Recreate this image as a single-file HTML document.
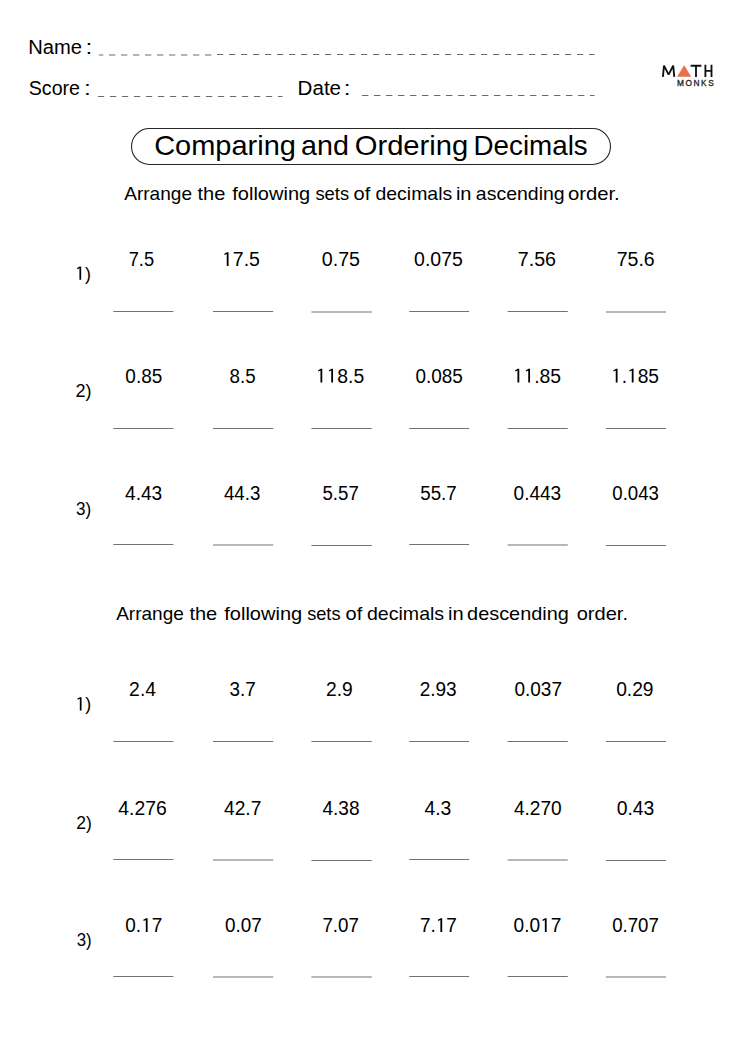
<!DOCTYPE html>
<html><head><meta charset="utf-8">
<style>
html,body{margin:0;padding:0;background:#fff;}
body{width:742px;height:1050px;position:relative;overflow:hidden;}
svg{position:absolute;left:0;top:0;display:block;}
text{font-family:"Liberation Sans",sans-serif;white-space:pre;}
</style></head><body>
<svg width="742" height="1050" viewBox="0 0 742 1050">
<g fill="#000">
<text x="28.23" y="53.70" font-size="19.60" textLength="53.82" lengthAdjust="spacingAndGlyphs">Name</text>
<text x="85.60" y="54.10" font-size="19.60" textLength="6.81" lengthAdjust="spacingAndGlyphs">:</text>
<text x="28.74" y="94.60" font-size="19.60" textLength="51.28" lengthAdjust="spacingAndGlyphs">Score</text>
<text x="84.10" y="95.00" font-size="19.60" textLength="6.81" lengthAdjust="spacingAndGlyphs">:</text>
<text x="297.62" y="94.60" font-size="19.60" textLength="43.45" lengthAdjust="spacingAndGlyphs">Date</text>
<text x="343.73" y="95.00" font-size="19.60" textLength="6.81" lengthAdjust="spacingAndGlyphs">:</text>
<text x="154.21" y="155.30" font-size="27.60" textLength="141.66" lengthAdjust="spacingAndGlyphs">Comparing</text>
<text x="301.11" y="155.30" font-size="27.60" textLength="47.86" lengthAdjust="spacingAndGlyphs">and</text>
<text x="354.69" y="155.30" font-size="27.60" textLength="113.62" lengthAdjust="spacingAndGlyphs">Ordering</text>
<text x="473.51" y="155.30" font-size="27.60" textLength="114.22" lengthAdjust="spacingAndGlyphs">Decimals</text>
<text x="124.22" y="200.30" font-size="18.20" textLength="67.78" lengthAdjust="spacingAndGlyphs">Arrange</text>
<text x="197.48" y="200.30" font-size="18.20" textLength="27.83" lengthAdjust="spacingAndGlyphs">the</text>
<text x="232.28" y="200.30" font-size="18.20" textLength="77.90" lengthAdjust="spacingAndGlyphs">following</text>
<text x="315.44" y="200.30" font-size="18.20" textLength="33.63" lengthAdjust="spacingAndGlyphs">sets</text>
<text x="353.56" y="200.30" font-size="18.20" textLength="16.70" lengthAdjust="spacingAndGlyphs">of</text>
<text x="375.51" y="200.30" font-size="18.20" textLength="76.68" lengthAdjust="spacingAndGlyphs">decimals</text>
<text x="455.91" y="200.30" font-size="18.20" textLength="15.58" lengthAdjust="spacingAndGlyphs">in</text>
<text x="475.89" y="200.30" font-size="18.20" textLength="88.78" lengthAdjust="spacingAndGlyphs">ascending</text>
<text x="567.90" y="200.30" font-size="18.20" textLength="51.84" lengthAdjust="spacingAndGlyphs">order.</text>
<text x="116.20" y="620.30" font-size="18.20" textLength="67.69" lengthAdjust="spacingAndGlyphs">Arrange</text>
<text x="189.40" y="620.30" font-size="18.20" textLength="27.83" lengthAdjust="spacingAndGlyphs">the</text>
<text x="224.27" y="620.30" font-size="18.20" textLength="77.90" lengthAdjust="spacingAndGlyphs">following</text>
<text x="307.15" y="620.30" font-size="18.20" textLength="33.37" lengthAdjust="spacingAndGlyphs">sets</text>
<text x="345.54" y="620.30" font-size="18.20" textLength="16.70" lengthAdjust="spacingAndGlyphs">of</text>
<text x="366.99" y="620.30" font-size="18.20" textLength="77.16" lengthAdjust="spacingAndGlyphs">decimals</text>
<text x="448.02" y="620.30" font-size="18.20" textLength="15.58" lengthAdjust="spacingAndGlyphs">in</text>
<text x="467.12" y="620.30" font-size="18.20" textLength="101.72" lengthAdjust="spacingAndGlyphs">descending</text>
<text x="576.65" y="620.30" font-size="18.20" textLength="51.32" lengthAdjust="spacingAndGlyphs">order.</text>
<text x="75.02" y="279.80" font-size="18.60" textLength="15.97" lengthAdjust="spacingAndGlyphs"> )</text>
<polygon points="79.44,279.80 81.17,279.80 81.17,266.53 79.69,266.53 77.03,268.02 77.41,269.18 79.44,268.22"/>
<text x="128.71" y="265.90" font-size="19.30" textLength="25.36" lengthAdjust="spacingAndGlyphs">7.5</text>
<text x="221.94" y="265.90" font-size="19.30" textLength="38.06" lengthAdjust="spacingAndGlyphs"> 7.5</text>
<polygon points="226.75,265.90 228.55,265.90 228.55,252.13 227.00,252.13 224.25,253.68 224.65,254.88 226.75,253.88"/>
<text x="321.80" y="265.90" font-size="19.30" textLength="38.25" lengthAdjust="spacingAndGlyphs">0.75</text>
<text x="414.11" y="265.90" font-size="19.30" textLength="48.74" lengthAdjust="spacingAndGlyphs">0.075</text>
<text x="517.80" y="265.90" font-size="19.30" textLength="38.25" lengthAdjust="spacingAndGlyphs">7.56</text>
<text x="616.74" y="265.90" font-size="19.30" textLength="38.00" lengthAdjust="spacingAndGlyphs">75.6</text>
<text x="75.42" y="396.80" font-size="18.60" textLength="16.09" lengthAdjust="spacingAndGlyphs">2)</text>
<text x="125.33" y="382.60" font-size="19.30" textLength="36.93" lengthAdjust="spacingAndGlyphs">0.85</text>
<text x="229.62" y="382.60" font-size="19.30" textLength="26.00" lengthAdjust="spacingAndGlyphs">8.5</text>
<text x="315.69" y="382.60" font-size="19.30" textLength="48.52" lengthAdjust="spacingAndGlyphs">  8.5</text>
<polygon points="320.47,382.60 322.27,382.60 322.27,368.83 320.72,368.83 317.97,370.38 318.37,371.58 320.47,370.58"/>
<polygon points="331.25,382.60 333.05,382.60 333.05,368.83 331.50,368.83 328.75,370.38 329.15,371.58 331.25,370.58"/>
<text x="415.38" y="382.60" font-size="19.30" textLength="47.41" lengthAdjust="spacingAndGlyphs">0.085</text>
<text x="512.70" y="382.60" font-size="19.30" textLength="48.47" lengthAdjust="spacingAndGlyphs">  .85</text>
<polygon points="517.47,382.60 519.27,382.60 519.27,368.83 517.72,368.83 514.97,370.38 515.37,371.58 517.47,370.58"/>
<polygon points="528.25,382.60 530.05,382.60 530.05,368.83 528.50,368.83 525.75,370.38 526.15,371.58 528.25,370.58"/>
<text x="611.03" y="382.60" font-size="19.30" textLength="48.05" lengthAdjust="spacingAndGlyphs"> . 85</text>
<polygon points="615.76,382.60 617.56,382.60 617.56,368.83 616.01,368.83 613.26,370.38 613.66,371.58 615.76,370.58"/>
<polygon points="631.77,382.60 633.57,382.60 633.57,368.83 632.02,368.83 629.27,370.38 629.67,371.58 631.77,370.58"/>
<text x="76.01" y="514.60" font-size="18.60" textLength="15.23" lengthAdjust="spacingAndGlyphs">3)</text>
<text x="124.97" y="500.00" font-size="19.30" textLength="37.31" lengthAdjust="spacingAndGlyphs">4.43</text>
<text x="223.96" y="500.00" font-size="19.30" textLength="36.38" lengthAdjust="spacingAndGlyphs">44.3</text>
<text x="322.48" y="500.00" font-size="19.30" textLength="36.30" lengthAdjust="spacingAndGlyphs">5.57</text>
<text x="420.29" y="500.00" font-size="19.30" textLength="36.40" lengthAdjust="spacingAndGlyphs">55.7</text>
<text x="513.59" y="500.00" font-size="19.30" textLength="47.64" lengthAdjust="spacingAndGlyphs">0.443</text>
<text x="612.31" y="500.00" font-size="19.30" textLength="46.60" lengthAdjust="spacingAndGlyphs">0.043</text>
<text x="75.42" y="710.40" font-size="18.60" textLength="15.91" lengthAdjust="spacingAndGlyphs"> )</text>
<polygon points="79.82,710.40 81.55,710.40 81.55,697.13 80.07,697.13 77.41,698.62 77.79,699.78 79.82,698.82"/>
<text x="129.12" y="696.00" font-size="19.30" textLength="26.92" lengthAdjust="spacingAndGlyphs">2.4</text>
<text x="229.62" y="696.00" font-size="19.30" textLength="26.23" lengthAdjust="spacingAndGlyphs">3.7</text>
<text x="325.99" y="696.00" font-size="19.30" textLength="26.74" lengthAdjust="spacingAndGlyphs">2.9</text>
<text x="419.68" y="696.00" font-size="19.30" textLength="37.02" lengthAdjust="spacingAndGlyphs">2.93</text>
<text x="514.39" y="696.00" font-size="19.30" textLength="47.61" lengthAdjust="spacingAndGlyphs">0.037</text>
<text x="616.14" y="696.00" font-size="19.30" textLength="37.43" lengthAdjust="spacingAndGlyphs">0.29</text>
<text x="76.37" y="828.80" font-size="18.60" textLength="15.57" lengthAdjust="spacingAndGlyphs">2)</text>
<text x="118.24" y="815.20" font-size="19.30" textLength="48.47" lengthAdjust="spacingAndGlyphs">4.276</text>
<text x="223.97" y="815.20" font-size="19.30" textLength="37.43" lengthAdjust="spacingAndGlyphs">42.7</text>
<text x="322.44" y="815.20" font-size="19.30" textLength="37.14" lengthAdjust="spacingAndGlyphs">4.38</text>
<text x="424.45" y="815.20" font-size="19.30" textLength="26.96" lengthAdjust="spacingAndGlyphs">4.3</text>
<text x="513.93" y="815.20" font-size="19.30" textLength="47.84" lengthAdjust="spacingAndGlyphs">4.270</text>
<text x="616.73" y="815.20" font-size="19.30" textLength="37.66" lengthAdjust="spacingAndGlyphs">0.43</text>
<text x="76.64" y="945.80" font-size="18.60" textLength="15.01" lengthAdjust="spacingAndGlyphs">3)</text>
<text x="125.33" y="931.90" font-size="19.30" textLength="36.89" lengthAdjust="spacingAndGlyphs">0. 7</text>
<polygon points="145.80,931.90 147.60,931.90 147.60,918.13 146.05,918.13 143.30,919.68 143.70,920.88 145.80,919.88"/>
<text x="224.99" y="931.90" font-size="19.30" textLength="36.80" lengthAdjust="spacingAndGlyphs">0.07</text>
<text x="322.39" y="931.90" font-size="19.30" textLength="36.49" lengthAdjust="spacingAndGlyphs">7.07</text>
<text x="419.96" y="931.90" font-size="19.30" textLength="36.82" lengthAdjust="spacingAndGlyphs">7. 7</text>
<polygon points="440.39,931.90 442.19,931.90 442.19,918.13 440.64,918.13 437.89,919.68 438.29,920.88 440.39,919.88"/>
<text x="513.59" y="931.90" font-size="19.30" textLength="47.79" lengthAdjust="spacingAndGlyphs">0.0 7</text>
<polygon points="544.84,931.90 546.64,931.90 546.64,918.13 545.09,918.13 542.34,919.68 542.74,920.88 544.84,919.88"/>
<text x="612.18" y="931.90" font-size="19.30" textLength="46.64" lengthAdjust="spacingAndGlyphs">0.707</text>
<text x="676.97" y="85.90" font-size="8.30" textLength="36.83" lengthAdjust="spacing" fill="#1e1e1e" stroke="#1e1e1e" stroke-width="0.3">MONKS</text>
</g>
<line x1="98.9" y1="55" x2="212" y2="55" stroke="#6a6a6a" stroke-width="1" stroke-dasharray="6.2 5.8" stroke-dashoffset="1.8"/>
<line x1="217.1" y1="54.5" x2="594.5" y2="54.5" stroke="#6a6a6a" stroke-width="1" stroke-dasharray="6.2 5.8"/>
<line x1="98" y1="96.5" x2="282.5" y2="96.5" stroke="#6a6a6a" stroke-width="1" stroke-dasharray="6.2 5.8"/>
<line x1="362" y1="95.5" x2="594.5" y2="95.5" stroke="#6a6a6a" stroke-width="1" stroke-dasharray="6.4 5.6"/>
<rect x="131.5" y="128.5" width="479" height="36" rx="18" ry="18" fill="none" stroke="#262626" stroke-width="1.1"/>
<rect x="113.3" y="311.0" width="60.2" height="1" fill="#737373"/>
<rect x="213.0" y="311.0" width="60.2" height="1" fill="#737373"/>
<rect x="311.4" y="311.5" width="60.4" height="1" fill="#737373"/>
<rect x="409.2" y="311.0" width="59.9" height="1" fill="#737373"/>
<rect x="507.6" y="311.0" width="60.2" height="1" fill="#737373"/>
<rect x="605.9" y="311.5" width="60.1" height="1" fill="#737373"/>
<rect x="113.3" y="428.0" width="60.2" height="1" fill="#737373"/>
<rect x="213.0" y="428.0" width="60.2" height="1" fill="#737373"/>
<rect x="311.4" y="428.0" width="60.4" height="1" fill="#737373"/>
<rect x="409.2" y="428.0" width="59.9" height="1" fill="#737373"/>
<rect x="507.6" y="428.0" width="60.2" height="1" fill="#737373"/>
<rect x="605.9" y="428.0" width="60.1" height="1" fill="#737373"/>
<rect x="113.3" y="544.0" width="60.2" height="1" fill="#737373"/>
<rect x="213.0" y="544.5" width="60.2" height="1" fill="#737373"/>
<rect x="311.4" y="545.0" width="60.4" height="1" fill="#737373"/>
<rect x="409.2" y="544.0" width="59.9" height="1" fill="#737373"/>
<rect x="507.6" y="544.5" width="60.2" height="1" fill="#737373"/>
<rect x="605.9" y="545.0" width="60.1" height="1" fill="#737373"/>
<rect x="113.3" y="741.0" width="60.2" height="1" fill="#737373"/>
<rect x="213.0" y="741.0" width="60.2" height="1" fill="#737373"/>
<rect x="311.4" y="741.0" width="60.4" height="1" fill="#737373"/>
<rect x="409.2" y="741.0" width="59.9" height="1" fill="#737373"/>
<rect x="507.6" y="741.0" width="60.2" height="1" fill="#737373"/>
<rect x="605.9" y="741.0" width="60.1" height="1" fill="#737373"/>
<rect x="113.3" y="859.0" width="60.2" height="1" fill="#737373"/>
<rect x="213.0" y="859.5" width="60.2" height="1" fill="#737373"/>
<rect x="311.4" y="860.0" width="60.4" height="1" fill="#737373"/>
<rect x="409.2" y="859.0" width="59.9" height="1" fill="#737373"/>
<rect x="507.6" y="859.5" width="60.2" height="1" fill="#737373"/>
<rect x="605.9" y="860.0" width="60.1" height="1" fill="#737373"/>
<rect x="113.3" y="976.0" width="60.2" height="1" fill="#737373"/>
<rect x="213.0" y="976.5" width="60.2" height="1" fill="#737373"/>
<rect x="311.4" y="976.5" width="60.4" height="1" fill="#737373"/>
<rect x="409.2" y="976.0" width="59.9" height="1" fill="#737373"/>
<rect x="507.6" y="976.0" width="60.2" height="1" fill="#737373"/>
<rect x="605.9" y="976.5" width="60.1" height="1" fill="#737373"/>
<g fill="none" stroke="#111" stroke-width="1.85" stroke-linejoin="miter" stroke-miterlimit="1.3">
<path d="M662.9,76.9 L664.0,65.6 L668.6,74.6 L673.2,65.6 L674.3,76.9"/>
<path d="M690.6,65.7 H701.4 M696,65.7 V76.9"/>
<path d="M705.4,64.8 V76.9 M711.5,64.8 V76.9 M705.4,70.9 H711.5"/>
</g>
<polygon points="684.2,65.2 691.2,76.8 677.1,76.8" fill="#e8704a"/>
</svg>
</body></html>
